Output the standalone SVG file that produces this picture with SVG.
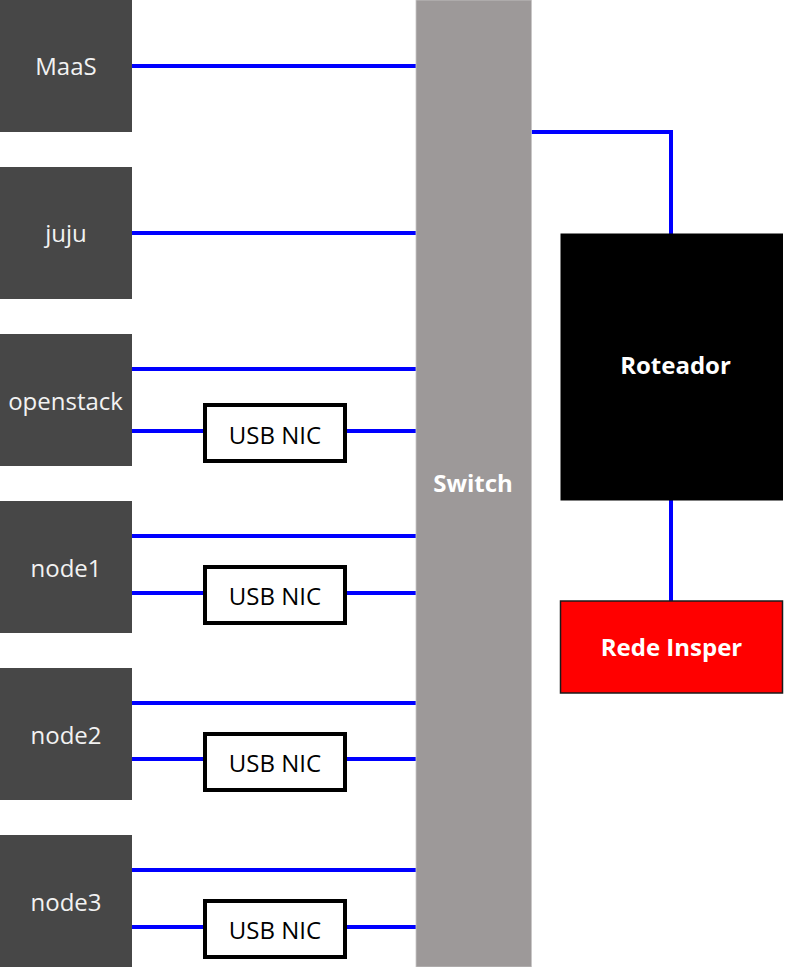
<svg xmlns="http://www.w3.org/2000/svg" width="785" height="967" viewBox="0 0 785 967">
<style>
.node{fill:#474747}
.lbl{font-family:"Open Sans","DejaVu Sans",sans-serif;font-size:24px;fill:#f2f2f2;text-anchor:middle}
.blbl{font-family:"Open Sans","DejaVu Sans",sans-serif;font-size:24px;font-weight:bold;fill:#ffffff;text-anchor:middle}
.nic{fill:#ffffff;stroke:#000000;stroke-width:4}
.nictxt{font-family:"Open Sans","DejaVu Sans",sans-serif;font-size:24px;fill:#000000;text-anchor:middle}
.wire{stroke:#0000ff;stroke-width:4;fill:none}
</style>
<rect width="785" height="967" fill="#ffffff"/>
<g id="connectors">
<line class="wire" x1="130" y1="66" x2="416" y2="66"/>
<line class="wire" x1="130" y1="233" x2="416" y2="233"/>
<line class="wire" x1="130" y1="369" x2="416" y2="369"/>
<line class="wire" x1="130" y1="431" x2="416" y2="431"/>
<line class="wire" x1="130" y1="536" x2="416" y2="536"/>
<line class="wire" x1="130" y1="593" x2="416" y2="593"/>
<line class="wire" x1="130" y1="703" x2="416" y2="703"/>
<line class="wire" x1="130" y1="759" x2="416" y2="759"/>
<line class="wire" x1="130" y1="870" x2="416" y2="870"/>
<line class="wire" x1="130" y1="927" x2="416" y2="927"/>
<polyline class="wire" points="531,132 671,132 671,234"/>
<line class="wire" x1="671" y1="498" x2="671" y2="601"/>
</g>
<g id="maas"><rect class="node" x="0" y="0" width="132" height="132"/><text class="lbl" x="66" y="75">MaaS</text></g>
<g id="juju"><rect class="node" x="0" y="167" width="132" height="132"/><text class="lbl" x="66" y="242">juju</text></g>
<g id="openstack"><rect class="node" x="0" y="334" width="132" height="132"/><text class="lbl" x="65.5" y="410">openstack</text></g>
<g id="node1"><rect class="node" x="0" y="501" width="132" height="132"/><text class="lbl" x="66" y="577">node1</text></g>
<g id="node2"><rect class="node" x="0" y="668" width="132" height="132"/><text class="lbl" x="66" y="744">node2</text></g>
<g id="node3"><rect class="node" x="0" y="835" width="132" height="132"/><text class="lbl" x="66" y="911">node3</text></g>
<g id="nic-openstack"><rect class="nic" x="205" y="405" width="140" height="56"/><text class="nictxt" x="275" y="444">USB NIC</text></g>
<g id="nic-node1"><rect class="nic" x="205" y="567" width="140" height="56"/><text class="nictxt" x="275" y="605">USB NIC</text></g>
<g id="nic-node2"><rect class="nic" x="205" y="734" width="140" height="56"/><text class="nictxt" x="275" y="772">USB NIC</text></g>
<g id="nic-node3"><rect class="nic" x="205" y="901" width="140" height="56"/><text class="nictxt" x="275" y="939">USB NIC</text></g>
<g id="switch"><rect x="416" y="0" width="115.5" height="967" fill="#9d9999" stroke="#c8c6c6" stroke-width="0.8"/><text class="blbl" x="473" y="492">Switch</text></g>
<g id="roteador"><rect x="560.5" y="233.5" width="222.5" height="267" fill="#000000"/><text class="blbl" x="675.5" y="374">Roteador</text></g>
<g id="rede-insper"><rect x="560.5" y="601" width="222" height="92" fill="#ff0000" stroke="#1a1a1a" stroke-width="1.5"/><text class="blbl" x="671.5" y="656">Rede Insper</text></g>
</svg>
